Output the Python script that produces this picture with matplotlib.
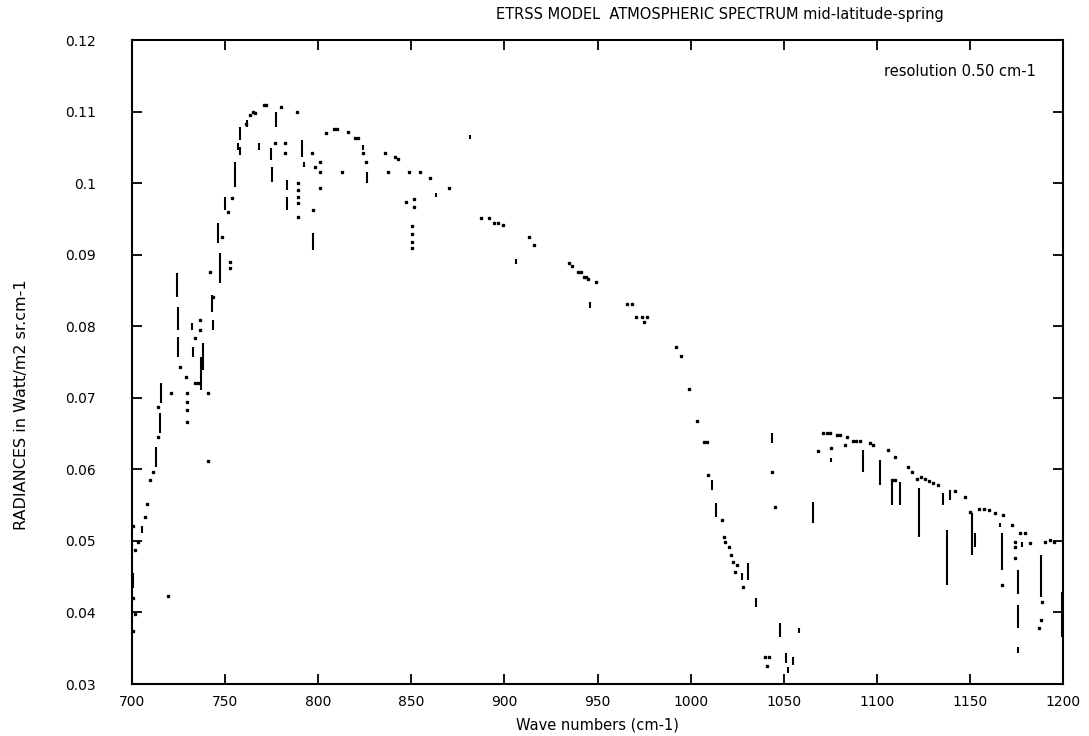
import numpy as np
import matplotlib
matplotlib.use("Agg")
import matplotlib.pyplot as plt

# spectrum samples (wavenumber cm-1, radiance)
pts_wn = [700.5, 701.5, 700.5, 701.6, 703.0, 700.5, 707.0, 708.1, 709.7, 711.3, 714.0, 714.0,
          719.3, 720.9, 725.8, 729.0, 729.5, 729.5, 729.5, 729.5, 734.0, 735.5, 733.8, 736.5,
          736.5, 740.8, 740.8, 741.9, 743.5, 748.3, 751.6, 752.6, 752.6, 753.7, 761.0, 763.4,
          765.0, 766.1, 771.0, 772.0, 780.0, 788.6, 776.8, 782.2, 782.2, 789.2, 789.2, 789.2,
          789.2, 789.2, 796.7, 797.2, 798.3, 801.0, 801.0, 801.0, 804.2, 808.5, 810.0, 816.0,
          819.5, 821.5, 824.1, 812.8, 825.7, 835.9, 841.3, 842.9, 837.5, 848.8, 854.7, 860.1,
          870.3, 847.2, 851.5, 851.5, 850.4, 850.4, 850.4, 850.4, 887.4, 891.7, 894.5, 896.5,
          899.3, 913.2, 915.9, 934.7, 936.3, 939.5, 941.0, 942.5, 944.0, 944.9, 949.2, 966.0,
          968.5, 970.7, 973.9, 975.0, 976.6, 992.2, 994.9, 999.2, 1003.5, 1007.3, 1009.0, 1009.4,
          1016.9, 1018.0, 1018.5, 1020.7, 1021.7, 1022.8, 1024.9, 1023.9, 1028.2, 1040.0, 1042.0,
          1041.1, 1043.7, 1045.4, 1068.4, 1071.0, 1073.0, 1075.0, 1078.5, 1080.5, 1084.0, 1075.4,
          1082.9, 1087.0, 1089.0, 1091.0, 1096.4, 1098.0, 1106.0, 1109.8, 1108.2, 1110.0, 1116.8,
          1118.9, 1121.6, 1124.0, 1126.0, 1128.0, 1130.2, 1132.9, 1142.0, 1147.4, 1150.1, 1155.0,
          1157.5, 1160.0, 1163.5, 1167.8, 1167.3, 1172.6, 1174.3, 1174.3, 1174.3, 1177.0, 1179.5,
          1182.3, 1188.7, 1188.2, 1187.1, 1190.5, 1193.1, 1195.0]
pts_rad = [0.0420, 0.0398, 0.0374, 0.0487, 0.0498, 0.0521, 0.0533, 0.0552, 0.0585, 0.0596, 0.0645, 0.0687,
           0.0423, 0.0707, 0.0743, 0.0729, 0.0707, 0.0694, 0.0683, 0.0666, 0.0721, 0.0721, 0.0784, 0.0809,
           0.0795, 0.0707, 0.0612, 0.0876, 0.0841, 0.0925, 0.0960, 0.0890, 0.0881, 0.0979, 0.1083, 0.1095,
           0.1099, 0.1098, 0.1109, 0.1109, 0.1106, 0.1100, 0.1056, 0.1056, 0.1042, 0.1000, 0.0990, 0.0981,
           0.0972, 0.0953, 0.1042, 0.0962, 0.1023, 0.1029, 0.1016, 0.0993, 0.1070, 0.1076, 0.1076, 0.1071,
           0.1063, 0.1063, 0.1042, 0.1016, 0.1029, 0.1042, 0.1036, 0.1034, 0.1016, 0.1016, 0.1016, 0.1007,
           0.0993, 0.0974, 0.0978, 0.0967, 0.0940, 0.0929, 0.0918, 0.0909, 0.0951, 0.0951, 0.0944, 0.0944,
           0.0941, 0.0925, 0.0913, 0.0888, 0.0884, 0.0876, 0.0876, 0.0869, 0.0869, 0.0866, 0.0862, 0.0831,
           0.0831, 0.0813, 0.0813, 0.0806, 0.0813, 0.0771, 0.0758, 0.0712, 0.0668, 0.0638, 0.0638, 0.0592,
           0.0529, 0.0505, 0.0498, 0.0491, 0.0480, 0.0470, 0.0466, 0.0457, 0.0436, 0.0338, 0.0338,
           0.0325, 0.0596, 0.0547, 0.0626, 0.0651, 0.0651, 0.0651, 0.0648, 0.0648, 0.0645, 0.0630,
           0.0634, 0.0639, 0.0639, 0.0639, 0.0637, 0.0634, 0.0627, 0.0617, 0.0585, 0.0585, 0.0603,
           0.0596, 0.0586, 0.0589, 0.0587, 0.0584, 0.0581, 0.0578, 0.0570, 0.0561, 0.0540, 0.0545,
           0.0545, 0.0543, 0.0539, 0.0536, 0.0438, 0.0522, 0.0498, 0.0491, 0.0476, 0.0511, 0.0511,
           0.0497, 0.0415, 0.0389, 0.0378, 0.0498, 0.0501, 0.0498]

# steep parts / absorption lines: wavenumber, low, high
seg_wn = [700.5, 705.4, 712.9, 715.0, 715.6, 724.2, 724.7, 724.7, 732.2, 732.8, 738.1, 737.0,
          743.5, 743.0, 747.3, 746.2, 750.0, 755.3, 758.0, 756.9, 758.0, 762.0, 777.3, 768.2,
          774.7, 775.2, 783.3, 783.3, 791.3, 792.4, 797.2, 824.1, 826.2, 863.3, 881.5, 906.2,
          946.0, 1011.6, 1013.7, 1027.6, 1030.8, 1035.1, 1043.7, 1048.0, 1051.3, 1052.5, 1055.0,
          1058.2, 1065.8, 1075.4, 1092.6, 1101.7, 1108.2, 1112.5, 1122.7, 1135.6, 1139.4, 1137.7,
          1151.2, 1152.8, 1166.2, 1167.3, 1175.9, 1175.9, 1175.9, 1178.0, 1188.2, 1199.5]
seg_lo = [0.0434, 0.0511, 0.0603, 0.0651, 0.0693, 0.0841, 0.0795, 0.0757, 0.0795, 0.0757, 0.0739, 0.0711,
          0.0795, 0.0820, 0.0860, 0.0916, 0.0962, 0.0995, 0.1039, 0.1046, 0.1060, 0.1078, 0.1078, 0.1046,
          0.1032, 0.1002, 0.0990, 0.0962, 0.1036, 0.1022, 0.0907, 0.1046, 0.1000, 0.0981, 0.1062, 0.0887,
          0.0826, 0.0571, 0.0533, 0.0445, 0.0445, 0.0408, 0.0637, 0.0366, 0.0329, 0.0315, 0.0327,
          0.0371, 0.0525, 0.0610, 0.0596, 0.0578, 0.0550, 0.0550, 0.0505, 0.0550, 0.0557, 0.0438,
          0.0480, 0.0491, 0.0519, 0.0459, 0.0426, 0.0378, 0.0343, 0.0491, 0.0422, 0.0366]
seg_hi = [0.0455, 0.0521, 0.0631, 0.0679, 0.0721, 0.0874, 0.0827, 0.0785, 0.0804, 0.0771, 0.0777, 0.0757,
          0.0809, 0.0844, 0.0902, 0.0944, 0.0981, 0.1029, 0.1050, 0.1056, 0.1078, 0.1088, 0.1099, 0.1056,
          0.1049, 0.1023, 0.1004, 0.0981, 0.1060, 0.1029, 0.0930, 0.1053, 0.1016, 0.0986, 0.1067, 0.0894,
          0.0834, 0.0585, 0.0553, 0.0455, 0.0469, 0.0420, 0.0651, 0.0385, 0.0343, 0.0324, 0.0338,
          0.0378, 0.0554, 0.0616, 0.0627, 0.0613, 0.0582, 0.0582, 0.0574, 0.0567, 0.0571, 0.0515,
          0.0539, 0.0511, 0.0525, 0.0511, 0.0459, 0.0410, 0.0352, 0.0498, 0.0480, 0.0429]

xticks = [700, 750, 800, 850, 900, 950, 1000, 1050, 1100, 1150, 1200]
yticks = [0.03, 0.04, 0.05, 0.06, 0.07, 0.08, 0.09, 0.10, 0.11, 0.12]
ytick_labels = ["0.03", "0.04", "0.05", "0.06", "0.07", "0.08", "0.09", "0.1", "0.11", "0.12"]

plt.rcParams['font.family'] = ['DejaVu Sans']

fig = plt.figure(figsize=(10.89, 7.36), dpi=100)
ax = fig.add_axes([132 / 1089, 1 - 684 / 736, (1063 - 132) / 1089, (684 - 40) / 736])

ax.vlines(seg_wn, seg_lo, seg_hi, color='black', linewidth=1.5)
ax.plot(pts_wn, pts_rad, linestyle='none', marker='s', markersize=1.6, color='black')

ax.set_xlim(700, 1200)
ax.set_ylim(0.03, 0.12)
ax.set_xticks(xticks)
ax.set_yticks(yticks)
ax.set_yticklabels(ytick_labels)
ax.tick_params(direction='in', length=7, width=1.3, top=True, right=True, labelsize=10)
ax.tick_params(axis='y', pad=26)
ax.tick_params(axis='x', pad=8)
for s in ax.spines.values():
    s.set_linewidth(1.5)

ax.set_xlabel("Wave numbers (cm-1)", fontsize=10.5, labelpad=6)
fig.text(22 / 1089, 1 - 405 / 736, "RADIANCES in Watt/m2 sr.cm-1", rotation=90,
         ha='center', va='center', fontsize=11.5)
fig.text(720 / 1089, 1 - 14 / 736, "ETRSS MODEL  ATMOSPHERIC SPECTRUM mid-latitude-spring",
         ha='center', va='center', fontsize=10.5)
fig.text(1036 / 1089, 1 - 72 / 736, "resolution 0.50 cm-1",
         ha='right', va='center', fontsize=10.5)

fig.savefig("out.png", dpi=100)
